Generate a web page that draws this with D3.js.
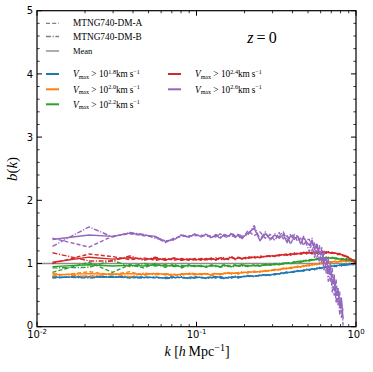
<!DOCTYPE html>
<html><head><meta charset="utf-8">
<script src="https://cdn.jsdelivr.net/npm/d3@7"></script>
<style>body{margin:0;background:#fff}svg{display:block}</style>
</head><body><svg id="c" width="373" height="372"></svg>
<script>
const kVals = [0.0125,0.0212,0.0297,0.0382,0.0467,0.0552,0.0637,0.0722,0.0807,0.0892,0.0977,
0.107,0.115,0.124,0.132,0.141,0.149,0.158,0.166,0.175,0.183,0.192,
0.21,0.23,0.25,0.27,0.29,0.31,0.33,0.35,0.37,0.39,0.41,0.43,0.45,0.47,0.49,0.51,0.53,0.55,0.57,0.59,
0.61,0.63,0.65,0.67,0.69,0.71,0.73,0.75,0.77,0.79,0.81,0.83,0.85,0.87,0.89,0.91,0.93,0.95,0.97,0.99];

const blueMean = [0.78,0.79,0.78,0.79,0.78,0.78,0.77,0.78,0.78,0.77,0.78,
0.78,0.77,0.78,0.79,0.78,0.77,0.78,0.78,0.79,0.78,0.79,
0.80,0.80,0.81,0.82,0.82,0.83,0.84,0.85,0.86,0.86,0.87,0.88,0.88,0.89,0.90,0.90,0.91,0.91,0.92,0.93,
0.93,0.94,0.94,0.95,0.95,0.96,0.96,0.96,0.97,0.97,0.97,0.98,0.98,0.98,0.98,0.99,0.99,0.99,0.99,1.00];
const blueA = [0.77,0.80,0.79,0.77,0.79,0.77,0.78,0.79,0.77,0.78,0.79,
0.77,0.78,0.79,0.77,0.79,0.78,0.77,0.79,0.78,0.77,0.80,
0.79,0.81,0.80,0.83,0.81,0.84,0.83,0.86,0.85,0.87,0.86,0.89,0.87,0.90,0.89,0.91,0.90,0.92,0.91,0.94,
0.92,0.95,0.93,0.96,0.94,0.97,0.95,0.97,0.96,0.98,0.96,0.99,0.97,0.99,0.97,1.00,0.98,1.00,0.98,1.00];
const blueB = [0.79,0.77,0.80,0.78,0.77,0.79,0.76,0.77,0.79,0.76,0.77,
0.79,0.76,0.77,0.80,0.77,0.76,0.79,0.77,0.80,0.79,0.78,
0.81,0.79,0.82,0.81,0.83,0.82,0.85,0.84,0.87,0.85,0.88,0.87,0.89,0.88,0.91,0.89,0.92,0.90,0.93,0.92,
0.94,0.93,0.95,0.94,0.96,0.95,0.97,0.95,0.98,0.96,0.98,0.97,0.99,0.97,0.99,0.98,1.00,0.98,1.00,0.99];

const orangeMean = [0.82,0.84,0.83,0.84,0.83,0.84,0.83,0.82,0.83,0.84,0.83,
0.83,0.84,0.82,0.84,0.83,0.84,0.85,0.84,0.85,0.84,0.86,
0.86,0.87,0.87,0.88,0.89,0.90,0.90,0.92,0.92,0.93,0.94,0.95,0.95,0.96,0.97,0.97,0.98,0.99,0.99,1.00,
1.00,1.01,1.01,1.02,1.02,1.02,1.03,1.03,1.03,1.03,1.04,1.04,1.04,1.04,1.04,1.04,1.04,1.04,1.03,1.03];
const orangeA = [0.80,0.87,0.82,0.87,0.81,0.85,0.82,0.81,0.84,0.83,0.82,
0.84,0.83,0.83,0.85,0.82,0.85,0.84,0.85,0.84,0.86,0.85,
0.87,0.86,0.88,0.87,0.90,0.89,0.91,0.91,0.93,0.92,0.95,0.94,0.96,0.95,0.98,0.96,0.99,0.98,1.00,0.99,
1.01,1.00,1.02,1.01,1.03,1.01,1.04,1.02,1.04,1.03,1.05,1.03,1.05,1.03,1.05,1.04,1.05,1.03,1.04,1.02];
const orangeB = [0.84,0.79,0.84,0.79,0.85,0.82,0.84,0.83,0.81,0.85,0.84,
0.82,0.85,0.81,0.83,0.84,0.83,0.86,0.83,0.86,0.83,0.87,
0.85,0.88,0.86,0.89,0.88,0.91,0.89,0.93,0.91,0.94,0.93,0.96,0.94,0.97,0.96,0.98,0.97,1.00,0.98,1.01,
0.99,1.02,1.00,1.03,1.01,1.03,1.02,1.04,1.02,1.04,1.03,1.05,1.03,1.05,1.04,1.05,1.03,1.04,1.02,1.03];

const greenMean = [0.95,0.98,0.96,0.97,0.96,0.98,0.96,0.97,0.95,0.97,0.96,
0.96,0.95,0.97,0.96,0.95,0.97,0.96,0.95,0.97,0.96,0.98,
0.96,0.97,0.96,0.98,0.98,0.99,0.98,1.00,1.01,1.00,1.02,1.03,1.02,1.04,1.05,1.04,1.06,1.06,1.07,1.06,
1.08,1.08,1.07,1.09,1.08,1.09,1.08,1.08,1.08,1.07,1.07,1.07,1.06,1.07,1.06,1.06,1.05,1.06,1.05,1.05];
const greenA = [0.86,1.02,0.86,0.98,0.93,1.00,0.94,0.99,0.93,0.98,0.95,
0.97,0.94,0.98,0.95,0.96,0.98,0.95,0.96,0.98,0.95,0.97,
0.95,0.98,0.96,0.99,0.97,1.00,0.98,1.01,1.00,1.02,1.01,1.04,1.02,1.05,1.04,1.06,1.05,1.07,1.06,1.08,
1.07,1.09,1.07,1.10,1.07,1.10,1.07,1.09,1.07,1.08,1.06,1.08,1.05,1.08,1.05,1.07,1.04,1.07,1.04,1.06];
const greenB = [0.93,0.94,1.05,0.95,1.00,0.96,0.98,0.95,0.97,0.95,0.97,
0.95,0.96,0.96,0.97,0.94,0.96,0.97,0.94,0.96,0.97,0.96,
0.97,0.96,0.98,0.97,0.99,0.98,1.00,0.99,1.02,1.00,1.03,1.02,1.04,1.03,1.06,1.04,1.07,1.05,1.08,1.06,
1.09,1.07,1.09,1.08,1.09,1.08,1.09,1.07,1.08,1.06,1.08,1.06,1.07,1.05,1.07,1.05,1.06,1.04,1.06,1.04];

const redMean = [1.02,1.10,1.07,1.09,1.07,1.08,1.06,1.08,1.06,1.07,1.06,
1.07,1.06,1.08,1.06,1.09,1.07,1.08,1.10,1.07,1.09,1.08,
1.09,1.10,1.10,1.11,1.12,1.12,1.13,1.14,1.14,1.15,1.15,1.16,1.15,1.17,1.16,1.17,1.16,1.18,1.17,1.18,
1.17,1.18,1.17,1.18,1.17,1.17,1.16,1.16,1.15,1.15,1.14,1.13,1.12,1.11,1.10,1.08,1.07,1.05,1.04,1.01];
const redA = [1.00,1.15,1.11,1.06,1.09,1.05,1.08,1.05,1.08,1.05,1.08,
1.05,1.08,1.06,1.09,1.05,1.10,1.06,1.09,1.08,1.10,1.07,
1.11,1.08,1.12,1.10,1.13,1.11,1.14,1.12,1.16,1.13,1.17,1.14,1.17,1.15,1.18,1.16,1.18,1.17,1.19,1.16,
1.19,1.16,1.19,1.17,1.18,1.16,1.17,1.15,1.16,1.14,1.15,1.12,1.13,1.10,1.11,1.07,1.08,1.04,1.05,1.00];
const redB = [1.17,1.04,1.04,1.12,1.05,1.10,1.05,1.09,1.05,1.08,1.05,
1.08,1.05,1.09,1.05,1.10,1.06,1.09,1.11,1.06,1.10,1.07,
1.08,1.11,1.09,1.12,1.11,1.13,1.12,1.15,1.13,1.16,1.14,1.17,1.14,1.18,1.15,1.18,1.15,1.19,1.16,1.19,
1.16,1.19,1.16,1.19,1.16,1.18,1.15,1.17,1.14,1.16,1.13,1.14,1.11,1.12,1.09,1.09,1.06,1.06,1.03,1.02];

const purpleMean = [1.38,1.45,1.43,1.48,1.45,1.43,1.35,1.38,1.45,1.42,1.46,
1.43,1.46,1.41,1.45,1.40,1.46,1.43,1.47,1.41,1.46,1.40,
1.48,1.56,1.36,1.47,1.39,1.45,1.40,1.46,1.33,1.44,1.38,1.43,1.31,1.41,1.34,1.29,1.37,1.22,1.30,1.15,
1.19,1.02,1.10,0.86,0.96,0.70,0.78,0.50,0.60,0.32,0.45,0.12,null,null,null,null,null,null,null,null];
const purpleA = [1.40,1.26,1.43,1.47,1.44,1.42,1.33,1.40,1.43,1.44,1.44,
1.45,1.43,1.44,1.42,1.47,1.43,1.41,1.49,1.43,1.44,1.38,
1.52,1.44,1.50,1.40,1.46,1.36,1.49,1.39,1.44,1.30,1.46,1.35,1.40,1.28,1.38,1.38,1.20,1.34,1.10,1.28,
1.00,1.20,0.85,1.08,0.70,0.92,0.50,0.75,0.35,0.55,0.15,0.30,null,null,null,null,null,null,null,null];
const purpleB = [1.27,1.58,1.42,1.49,1.46,1.40,1.36,1.37,1.46,1.41,1.47,
1.42,1.47,1.40,1.46,1.42,1.45,1.44,1.44,1.42,1.47,1.43,
1.45,1.60,1.38,1.50,1.36,1.47,1.42,1.50,1.36,1.47,1.41,1.45,1.33,1.43,1.30,1.18,1.40,1.08,1.32,1.00,
1.25,0.88,1.12,0.72,1.00,0.55,0.82,0.38,0.62,0.20,0.40,0.02,null,null,null,null,null,null,null,null];

const refValue = 1;
const yTicks = [0,1,2,3,4,5];
const xTickExps = ["-2","-1","0"];
const colors = ["#1f77b4","#ff7f0e","#2ca02c","#d62728","#9467bd"];
const vmaxExps = ["1.8","2.0","2.2","2.4","2.6"];
const styleNames = ["MTNG740-DM-A","MTNG740-DM-B","Mean"];

const series = [
 {c:0, mean:blueMean, a:blueA, b:blueB},
 {c:1, mean:orangeMean, a:orangeA, b:orangeB},
 {c:2, mean:greenMean, a:greenA, b:greenB},
 {c:3, mean:redMean, a:redA, b:redB},
 {c:4, mean:purpleMean, a:purpleA, b:purpleB}
];

const svg = d3.select("#c");
const L=37, R=356, T=10.7, B=326.7;
const x = d3.scaleLog().domain([0.01,1]).range([L,R]);
const y = d3.scaleLinear().domain([0,5]).range([B,T]);
const SERIF = "'Liberation Serif','DejaVu Serif',serif";
const SANS = "'DejaVu Sans',sans-serif";

svg.append("clipPath").attr("id","pc").append("rect")
  .attr("x",L).attr("y",T).attr("width",R-L).attr("height",B-T);
const plot = svg.append("g").attr("clip-path","url(#pc)");

plot.append("line").attr("x1",L).attr("x2",R).attr("y1",y(refValue)).attr("y2",y(refValue))
  .attr("stroke","#8c8c8c").attr("stroke-width",1.6);

const line = d3.line().defined(d=>d[1]!=null).x(d=>x(d[0])).y(d=>y(d[1]));
const dashA = "4,2.2", dashB = "5,1.6,1.2,1.6";
series.forEach(s=>{
  const col = colors[s.c];
  [[s.a,dashA],[s.b,dashB],[s.mean,null]].forEach(([arr,da])=>{
    const pts = kVals.map((k,i)=>[k,arr[i]]);
    const p = plot.append("path").datum(pts).attr("d",line)
      .attr("fill","none").attr("stroke",col).attr("stroke-width",1.4)
      .attr("stroke-linejoin","round");
    if(da) p.attr("stroke-dasharray",da);
  });
});

const ax = svg.append("g");
const minorX = [];
[0.01,0.1].forEach(d=>{for(let m=2;m<=9;m++) minorX.push(d*m);});
const majorX = [0.01,0.1,1];
const minorY = d3.range(0,5.01,0.2).filter(v=>Math.abs(v-Math.round(v))>1e-6);
function tick(x1,y1,x2,y2,w){ax.append("line").attr("x1",x1).attr("y1",y1).attr("x2",x2).attr("y2",y2).attr("stroke","#000").attr("stroke-width",w);}
majorX.forEach(v=>{tick(x(v),B,x(v),B-5,1);tick(x(v),T,x(v),T+5,1);});
minorX.forEach(v=>{tick(x(v),B,x(v),B-2.6,0.8);tick(x(v),T,x(v),T+2.6,0.8);});
yTicks.forEach(v=>{tick(L,y(v),L+5,y(v),1);tick(R,y(v),R-5,y(v),1);});
minorY.forEach(v=>{tick(L,y(v),L+2.6,y(v),0.8);tick(R,y(v),R-2.6,y(v),0.8);});
ax.append("rect").attr("x",L).attr("y",T).attr("width",R-L).attr("height",B-T)
  .attr("fill","none").attr("stroke","#000").attr("stroke-width",1.2);

yTicks.forEach(v=>{
  ax.append("text").attr("x",L-4).attr("y",v===0?y(v)+1.8:y(v)+3.6).attr("text-anchor","end")
    .attr("font-family",SANS).attr("font-size",10).text(v);
});
majorX.forEach((v,i)=>{
  const t = ax.append("text").attr("x",x(v)).attr("y",B+11.5).attr("text-anchor","middle")
    .attr("font-family",SANS).attr("font-size",10);
  t.append("tspan").text("10");
  t.append("tspan").attr("dy",-4).attr("font-size",7).text(xTickExps[i]);
});

const yl = svg.append("text").attr("transform","translate(17,169) rotate(-90)")
  .attr("text-anchor","middle").attr("font-family",SERIF).attr("font-size",15);
yl.append("tspan").attr("font-style","italic").text("b");
yl.append("tspan").text("(");
yl.append("tspan").attr("font-style","italic").text("k");
yl.append("tspan").text(")");

const xl = svg.append("text").attr("x",197).attr("y",356).attr("text-anchor","middle")
  .attr("font-family",SERIF).attr("font-size",14);
xl.append("tspan").attr("font-style","italic").text("k");
xl.append("tspan").text(" [");
xl.append("tspan").attr("font-style","italic").text("h");
xl.append("tspan").text("\u2009Mpc");
xl.append("tspan").attr("dy",-5).attr("font-size",10).text("\u22121");
xl.append("tspan").attr("dy",5).text("]");

const zt = svg.append("text").attr("x",262).attr("y",43).attr("text-anchor","middle")
  .attr("font-family",SERIF).attr("font-size",16);
zt.append("tspan").attr("font-style","italic").text("z");
zt.append("tspan").text("\u2009=\u20090");

const lg = svg.append("g");
const styleY = [23.3,36.5,51];
const styleDash = [dashA,dashB,null];
styleNames.forEach((n,i)=>{
  const l = lg.append("line").attr("x1",46).attr("x2",59).attr("y1",styleY[i]).attr("y2",styleY[i])
    .attr("stroke","#808080").attr("stroke-width",1.3);
  if(styleDash[i]) l.attr("stroke-dasharray",styleDash[i]);
  lg.append("text").attr("x",73).attr("y",styleY[i]+3).attr("font-family",SERIF)
    .attr("font-size",n==="Mean"?8.5:9.3).text(n);
});
const colPos = [[46,74],[46,89.3],[46,104.3],[168,74],[168,89.3]];
vmaxExps.forEach((e,i)=>{
  const [lx,ly] = colPos[i];
  lg.append("line").attr("x1",lx).attr("x2",lx+13).attr("y1",ly).attr("y2",ly)
    .attr("stroke",colors[i]).attr("stroke-width",2);
  const t = lg.append("text").attr("x",lx+27).attr("y",ly+3.2).attr("font-family",SERIF).attr("font-size",9.3);
  t.append("tspan").attr("font-style","italic").text("V");
  t.append("tspan").attr("dy",1.8).attr("font-size",6).text("max");
  t.append("tspan").attr("dy",-1.8).text(" > 10");
  t.append("tspan").attr("dy",-3.6).attr("font-size",6.2).text(e);
  t.append("tspan").attr("dy",3.6).text("km\u2009s");
  t.append("tspan").attr("dy",-3.6).attr("font-size",6.2).text("\u22121");
});
</script></body></html>
